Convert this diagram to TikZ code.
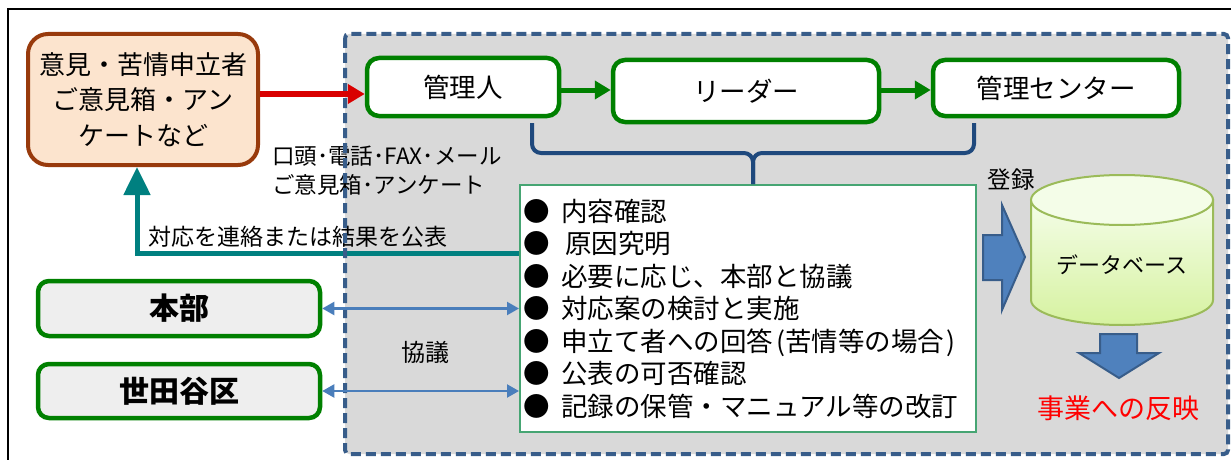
\documentclass[tikz,border=0pt]{standalone}
\usepackage{fontspec}
\setmainfont{Noto Sans CJK JP}
\usetikzlibrary{arrows.meta}

\definecolor{voiceline}{RGB}{152,58,12}
\definecolor{voicefill}{RGB}{252,228,206}
\definecolor{staffgreen}{RGB}{0,128,0}
\definecolor{areagray}{RGB}{217,217,217}
\definecolor{areablue}{RGB}{56,93,138}
\definecolor{bracenavy}{RGB}{31,73,125}
\definecolor{replyteal}{RGB}{0,128,128}
\definecolor{listgreen}{RGB}{70,165,115}
\definecolor{keygray}{RGB}{238,238,238}
\definecolor{consultblue}{RGB}{74,126,187}
\definecolor{blockblue}{RGB}{79,129,189}
\definecolor{dbline}{RGB}{155,187,89}
\definecolor{dbtop}{RGB}{244,253,232}
\definecolor{dbbottom}{RGB}{214,242,160}
\definecolor{resultred}{RGB}{255,0,0}

\begin{document}
\begin{tikzpicture}[x=1pt,y=-1pt,
    voicebox/.style={draw=voiceline,line width=4pt,rounded corners=20pt,fill=voicefill,
      align=center,inner sep=0pt,font=\fontsize{26}{35.5}\selectfont},
    staffbox/.style={draw=staffgreen,line width=4.5pt,rounded corners=12pt,fill=white,
      inner sep=0pt,font=\fontsize{26.5}{26.5}\selectfont},
    partnerbox/.style={draw=staffgreen,line width=4.5pt,rounded corners=11pt,fill=keygray,
      inner sep=0pt,minimum width=282pt,font=\fontsize{30}{30}\selectfont\bfseries},
    flowarrow/.style={draw=staffgreen,line width=5pt,-{Triangle[length=16pt,width=18pt]}},
    consultarrow/.style={draw=consultblue,line width=2.2pt,
      {Triangle[length=12pt,width=13pt]}-{Triangle[length=12pt,width=13pt]}},
    blockarrow/.style={fill=blockblue,draw=areablue,line width=2pt,line join=miter}]
  \useasboundingbox (0,0) rectangle (1231,460);
  \clip (0,0) rectangle (1231,460);
  \draw[line width=2pt] (8,9) rectangle (1260,490);

  \fill[areagray,rounded corners=4pt] (345,34) rectangle (1228,454);

  \node[draw=listgreen,line width=2pt,fill=white,minimum width=456pt,minimum height=247pt,
    text width=450pt,inner xsep=3pt,align=left,font=\fontsize{26.5}{32.5}\selectfont] (tasks) at (748,308.5)
    {●\hspace{12pt}内容確認\\
     ●\hspace{16pt}原因究明\\
     ●\hspace{12pt}必要に応じ、本部と協議\\
     ●\hspace{12pt}対応案の検討と実施\\
     ●\hspace{12pt}申立て者への回答\hspace{3pt}(苦情等の場合\hspace{2pt})\\
     ●\hspace{12pt}公表の可否確認\\
     ●\hspace{12pt}記録の保管・マニュアル等の改訂};

  \node[voicebox,minimum width=230pt,minimum height=131pt] (voice) at (143,99.5)
    {意見・苦情申立者\\ご意見箱・アン\\ケートなど};

  \coordinate (replyturn) at (137,253);
  \draw[replyteal,line width=5pt,-{Triangle[length=28pt,width=26pt]}]
    (tasks.west |- replyturn) -- (replyturn) -- (replyturn |- voice.south);
  \node[inner sep=0pt,font=\fontsize{23}{23}\selectfont] (replylabel) at (298,237) {対応を連絡または結果を公表};
  \node[inner sep=0pt,anchor=west,align=left,font=\fontsize{22.5}{29}\selectfont] (channels) at (272,170.5)
    {口頭･電話･FAX･メール\\ご意見箱･アンケート};

  \draw[areablue,line width=4pt,dash pattern=on 10pt off 5pt,rounded corners=4pt] (345,34) rectangle (1228,454);

  \node[staffbox,minimum width=192pt,minimum height=58pt] (kanri) at (463,87) {管理人};
  \node[staffbox,minimum width=266pt,minimum height=62pt] (leader) at (746,91) {リーダー};
  \node[staffbox,minimum width=246pt,minimum height=56pt] (center) at (1056,88) {管理センター};

  \coordinate (redrow) at (0,94);
  \draw[red!85!black,line width=5.5pt,-{Triangle[length=17pt,width=19pt]}]
    (voice.east |- redrow) -- (kanri.west |- redrow);
  \draw[flowarrow] (kanri.east |- 0,90) -- (leader.west |- 0,90);
  \draw[flowarrow] (leader.east |- 0,90) -- (center.west |- 0,90);

  \coordinate (braceL) at (532,123);
  \coordinate (braceR) at (974,123);
  \coordinate (braceM) at (753,153);
  \draw[bracenavy,line width=4pt,rounded corners=9pt] (braceL) |- (braceM) -- (tasks.north -| braceM);
  \draw[bracenavy,line width=4pt,rounded corners=9pt] (braceR) |- (braceM) -- (tasks.north -| braceM);

  \node[partnerbox,minimum height=55pt] (honbu) at (179,308.5) {本部};
  \node[partnerbox,minimum height=54pt] (setagaya) at (179,391) {世田谷区};
  \draw[consultarrow] (honbu.east) -- (tasks.west |- honbu.east);
  \draw[consultarrow] (setagaya.east) -- (tasks.west |- setagaya.east);
  \node[inner sep=0pt,font=\fontsize{24}{24}\selectfont] (consult) at (425,352) {協議};

  \draw[blockarrow] (983,235) -- (1002,235) -- (1002,205) -- (1025,257) -- (1002,310)
    -- (1002,280) -- (983,280) -- cycle;
  \node[inner sep=0pt,font=\fontsize{23.5}{23.5}\selectfont] (entry) at (1011,180) {登録};

  \draw[dbline,line width=2pt,top color=dbtop,bottom color=dbbottom]
    (1031,200) -- (1031,300) arc[start angle=180,end angle=0,x radius=91,y radius=25]
    -- (1213,200) -- cycle;
  \draw[dbline,line width=2pt,fill=dbtop] (1122,200) ellipse[x radius=91,y radius=25];
  \node[inner sep=0pt,font=\fontsize{22}{22}\selectfont] (db) at (1122,265) {データベース};

  \draw[blockarrow] (1100,334) -- (1137,334) -- (1137,353) -- (1159,353) -- (1119,378)
    -- (1079,353) -- (1100,353) -- cycle;
  \node[inner sep=0pt,text=resultred,font=\fontsize{27}{27}\selectfont] (result) at (1118,408) {事業への反映};
\end{tikzpicture}
\end{document}
